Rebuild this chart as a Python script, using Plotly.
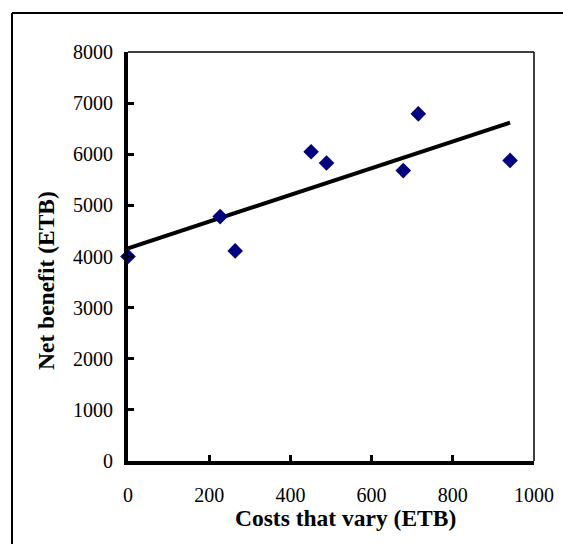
import numpy as np
import plotly.graph_objects as go

# Data
costs = [0, 227, 264, 451, 489, 678, 715, 941]
net_benefit = [4000, 4780, 4110, 6050, 5830, 5680, 6790, 5880]
x_ticks = [0, 200, 400, 600, 800, 1000]
y_ticks = [0, 1000, 2000, 3000, 4000, 5000, 6000, 7000, 8000]
x_title = "Costs that vary (ETB)"
y_title = "Net benefit (ETB)"

# Linear trend line fitted to the data
slope, intercept = np.polyfit(costs, net_benefit, 1)
trend_x = [0, max(costs)]
trend_y = [intercept + slope * v for v in trend_x]

FONT = "Liberation Serif, Times New Roman, serif"

W, H = 563, 544
L, R, T, B = 128, 29, 52, 83
PW, PH = W - L - R, H - T - B


def px(x):  # page pixel x -> paper x
    return (x - L) / PW


def py(y):  # page pixel y -> paper y
    return 1 - (y - T) / PH


fig = go.Figure()
fig.add_trace(go.Scatter(
    x=trend_x, y=trend_y, mode="lines",
    line=dict(color="black", width=4),
    showlegend=False, hoverinfo="skip", cliponaxis=False,
))
fig.add_trace(go.Scatter(
    x=costs, y=net_benefit, mode="markers",
    marker=dict(symbol="diamond", size=12, color="#000080",
                line=dict(width=0)),
    showlegend=False, cliponaxis=False,
))

fig.update_layout(
    width=W, height=H,
    margin=dict(l=L, r=R, t=T, b=B, autoexpand=False),
    paper_bgcolor="white", plot_bgcolor="white",
    font=dict(family=FONT, size=20, color="black"),
    xaxis=dict(
        range=[0, 1000], tickvals=x_ticks, ticktext=[str(v) for v in x_ticks],
        showgrid=False, zeroline=False, automargin=False,
        showline=True, linecolor="black", linewidth=4,
        ticks="inside", ticklen=6, tickwidth=3, tickcolor="black",
        ticklabelstandoff=13,
    ),
    yaxis=dict(
        range=[0, 8000], tickvals=y_ticks, ticktext=[str(v) for v in y_ticks],
        showgrid=False, zeroline=False, automargin=False,
        showline=True, linecolor="black", linewidth=4,
        ticks="inside", ticklen=6, tickwidth=3, tickcolor="black",
        ticklabelstandoff=7,
    ),
    annotations=[
        dict(text="<b>" + x_title + "</b>", xref="paper", yref="paper",
             x=px(345), y=py(518), xanchor="center", yanchor="middle",
             showarrow=False, font=dict(family=FONT, size=23.5, color="black")),
        dict(text="<b>" + y_title + "</b>", xref="paper", yref="paper",
             x=px(46), y=py(281), xanchor="center", yanchor="middle",
             textangle=-90,
             showarrow=False, font=dict(family=FONT, size=23.5, color="black")),
    ],
    shapes=[
        # thin top and right plot border
        dict(type="line", xref="paper", yref="paper", x0=0, x1=1, y0=1, y1=1,
             line=dict(color="black", width=1.5)),
        dict(type="line", xref="paper", yref="paper", x0=1, x1=1, y0=0, y1=1,
             line=dict(color="black", width=1.5)),
        # outer chart frame (top and left edges visible)
        dict(type="line", xref="paper", yref="paper", x0=px(12), x1=px(620),
             y0=py(13), y1=py(13), line=dict(color="black", width=2)),
        dict(type="line", xref="paper", yref="paper", x0=px(12), x1=px(12),
             y0=py(13), y1=py(620), line=dict(color="black", width=2)),
    ],
)

fig.write_html(
    "out.html",
    config={"displayModeBar": False},
    post_script="document.body.style.margin='0';"
                "document.body.style.overflow='hidden';",
)
